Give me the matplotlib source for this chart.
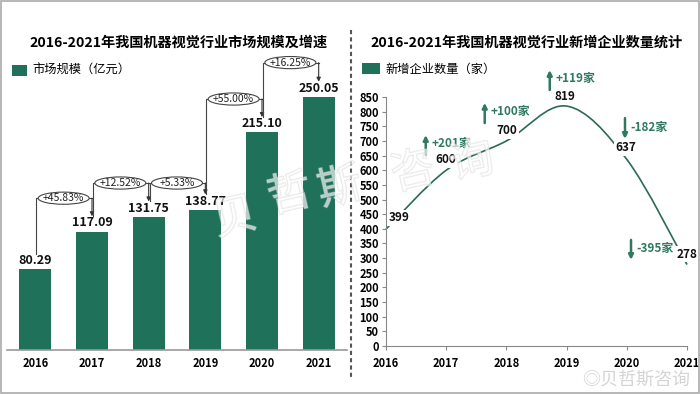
import matplotlib.pyplot as plt
import matplotlib.patheffects as pe
from matplotlib.patches import Ellipse, Rectangle, PathPatch
from matplotlib.path import Path
from matplotlib.lines import Line2D

plt.rcParams['font.family'] = ['Noto Sans CJK SC', 'DejaVu Sans']

# data
years = ['2016', '2017', '2018', '2019', '2020', '2021']
market_size = [80.29, 117.09, 131.75, 138.77, 215.10, 250.05]
growth_labels = ['+45.83%', '+12.52%', '+5.33%', '+55.00%', '+16.25%']
new_firms = [399, 600, 700, 819, 637, 278]
firm_delta_labels = ['+201家', '+100家', '+119家', '-182家', '-395家']

GREEN = '#1f7159'
LINE_GREEN = '#2b6a53'
TEXT_GREEN = '#2f7a5e'
W, H = 700, 394


def fx(px):
    return px / W


def fy(py):
    return 1 - py / H


fig = plt.figure(figsize=(7, 3.94), dpi=100)

# ---------------- left: bars ----------------
ax1 = fig.add_axes([fx(7), fy(350), fx(340), 303.6 / H])
x = list(range(len(years)))
ax1.bar(x, market_size, width=0.56, color=GREEN, zorder=2)
ax1.set_xlim(-0.5, 5.5)
ax1.set_ylim(0, 300)
ax1.set_xticks(x)
ax1.set_xticklabels(years, fontsize=8, fontweight='bold')
ax1.tick_params(axis='x', length=0, pad=5)
ax1.set_yticks([])
for s in ['top', 'right', 'left']:
    ax1.spines[s].set_visible(False)
ax1.spines['bottom'].set_color('#999999')
ax1.spines['bottom'].set_linewidth(1.2)

for i, v in enumerate(market_size):
    ax1.text(i, v + 2, f'{v:.2f}', ha='center', va='bottom',
             fontsize=9, fontweight='bold', color='#111111', zorder=5)

# growth connectors (layout levels)
levels = [150, 165, 165, 248, 284]
for i, (g, lev) in enumerate(zip(growth_labels, levels)):
    ax1.plot([i + 0.02, i + 0.02, i + 1], [market_size[i] + 15, lev, lev],
             color='#444444', lw=0.8, clip_on=False, zorder=3)
    ax1.annotate('', xy=(i + 1, market_size[i + 1] + 15), xytext=(i + 1, lev),
                 arrowprops=dict(arrowstyle='-|>', color='#333333', lw=0.8,
                                 mutation_scale=6, shrinkA=0, shrinkB=0),
                 annotation_clip=False, zorder=3)
    ax1.add_patch(Ellipse((i + 0.5, lev), 0.9, 12, facecolor='white',
                          edgecolor='#444444', lw=0.8, clip_on=False, zorder=4))
    ax1.text(i + 0.5, lev, g, ha='center', va='center', fontsize=7.5,
             color='#222222', zorder=5)

# ---------------- right: line ----------------
ax2 = fig.add_axes([fx(386), fy(346), fx(301), 249 / H])
n = len(new_firms)
pts = list(zip(range(n), new_firms))
verts = [pts[0]]
codes = [Path.MOVETO]
for i in range(n - 1):
    p0 = pts[i - 1] if i > 0 else pts[i]
    p1, p2 = pts[i], pts[i + 1]
    p3 = pts[i + 2] if i + 2 < n else pts[i + 1]
    c1 = (p1[0] + (p2[0] - p0[0]) / 6, p1[1] + (p2[1] - p0[1]) / 6)
    c2 = (p2[0] - (p3[0] - p1[0]) / 6, p2[1] - (p3[1] - p1[1]) / 6)
    verts += [c1, c2, p2]
    codes += [Path.CURVE4] * 3
ax2.add_patch(PathPatch(Path(verts, codes), facecolor='none',
                        edgecolor=LINE_GREEN, lw=1.2, zorder=2, clip_on=False))
ax2.set_xlim(0, n - 1)
ax2.set_ylim(0, 850)
ax2.set_xticks(range(n))
ax2.set_xticklabels(years, fontsize=8, fontweight='bold')
ax2.set_yticks(range(0, 851, 50))
ax2.set_yticklabels([str(t) for t in range(0, 851, 50)], fontsize=8,
                    fontweight='bold')
ax2.tick_params(axis='both', length=3, color='#888888', pad=2)
ax2.tick_params(axis='x', pad=5)
for s in ['top', 'right']:
    ax2.spines[s].set_visible(False)
for s in ['left', 'bottom']:
    ax2.spines[s].set_color('#888888')

# value labels (layout offsets)
label_pos = [(0.22, 437), (1.0, 635), (2.0, 734), (2.97, 850), (3.99, 676), (5.0, 314)]
for v, (lx, ly) in zip(new_firms, label_pos):
    ax2.text(lx, ly, str(v), ha='center', va='center', fontsize=8.5,
             fontweight='bold', color='#111111', zorder=5, clip_on=False,
             bbox=dict(boxstyle='square,pad=0.15', facecolor='white',
                       edgecolor='none'))

# delta arrows (layout: x, tail, tip)
arrow_pos = [(0.66, 652, 720), (1.64, 761, 830), (2.72, 874, 942),
             (3.97, 778, 707), (4.07, 362, 294)]
for lab, (axx, y0, y1) in zip(firm_delta_labels, arrow_pos):
    ax2.annotate('', xy=(axx, y1), xytext=(axx, y0),
                 arrowprops=dict(arrowstyle='-|>', color=TEXT_GREEN, lw=1.8,
                                 mutation_scale=7, shrinkA=0, shrinkB=0),
                 annotation_clip=False, zorder=4)
    ax2.text(axx + 0.09, (y0 + y1) / 2 + 5, lab, ha='left', va='center',
             fontsize=8.5, fontweight='bold', color=TEXT_GREEN, clip_on=False,
             zorder=5)

# ---------------- titles & legends ----------------
fig.text(fx(178), fy(43), '2016-2021年我国机器视觉行业市场规模及增速',
         ha='center', va='center', fontsize=10.2, fontweight='bold')
fig.text(fx(527), fy(43), '2016-2021年我国机器视觉行业新增企业数量统计',
         ha='center', va='center', fontsize=10.2, fontweight='bold')

fig.add_artist(Rectangle((fx(12), fy(76)), fx(15), 11 / H, transform=fig.transFigure,
                         facecolor=GREEN, edgecolor='none'))
fig.text(fx(32), fy(70.5), '市场规模（亿元）', ha='left', va='center', fontsize=8.8)
fig.add_artist(Rectangle((fx(362), fy(74)), fx(18), 11 / H, transform=fig.transFigure,
                         facecolor=GREEN, edgecolor='none'))
fig.text(fx(385), fy(69), '新增企业数量（家）', ha='left', va='center', fontsize=8.8)

# divider and frame
fig.add_artist(Line2D([fx(351), fx(351)], [fy(30), fy(380)], transform=fig.transFigure,
                      color='#555555', lw=1.5, linestyle=(0, (2, 1.5))))
fig.add_artist(Rectangle((0.001, 0.002), 0.997, 0.995, transform=fig.transFigure,
                         facecolor='none', edgecolor='#aaaaaa', lw=1.2))

# watermarks
wm_fx = [pe.Stroke(linewidth=1.0, foreground='#d6d6d6', alpha=0.5), pe.Normal()]
for ch, (cx, cy) in zip('贝哲斯咨询', [(235, 218), (290, 195), (340, 188),
                                   (413, 172), (472, 162)]):
    fig.text(fx(cx), fy(cy), ch, ha='center', va='center', fontsize=32,
             rotation=13, color='white', alpha=0.3, path_effects=wm_fx, zorder=10)
fig.text(fx(690), fy(380), '◎贝哲斯咨询', ha='right', va='center', fontsize=13,
         color='#d4d4d4', family=['Noto Sans CJK SC', 'DejaVu Sans'])

fig.savefig('out.png', dpi=100)
